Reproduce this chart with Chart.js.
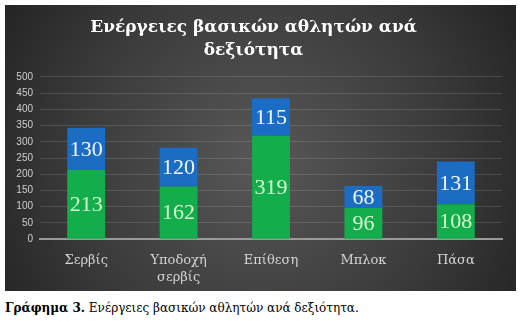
<!DOCTYPE html>
<html>
<head>
<meta charset="utf-8">
<script src="https://cdn.jsdelivr.net/npm/chart.js@4"></script>
<style>
  body { margin: 0; background: #fff; width: 523px; height: 323px; position: relative; overflow: hidden; }
  #box { position: absolute; left: 5px; top: 5px; width: 511px; height: 286px; }
  #caption { position: absolute; left: 5px; top: 301px; font-family: "DejaVu Serif", serif; font-size: 12px; color: #000; white-space: nowrap; }
</style>
</head>
<body>
<div id="box"><canvas id="chart" width="511" height="286"></canvas></div>
<div id="caption"><b>Γράφημα 3.</b> Ενέργειες βασικών αθλητών ανά δεξιότητα.</div>
<script>
const categories = [["Σερβίς"], ["Υποδοχή", "σερβίς"], ["Επίθεση"], ["Μπλοκ"], ["Πάσα"]];
const greenValues = [213, 162, 319, 96, 108];
const blueValues = [130, 120, 115, 68, 131];
const yTicks = [0, 50, 100, 150, 200, 250, 300, 350, 400, 450, 500];

const serif = "'Liberation Serif', 'DejaVu Serif', serif";
const greekSerif = "'DejaVu Serif', serif";

// dark radial background like the slide
const bgPlugin = {
    id: "bg",
    beforeDraw(chart) {
        const ctx = chart.ctx;
        const w = chart.width, h = chart.height;
        const g = ctx.createRadialGradient(w * 0.5, h * 0.55, 10, w * 0.5, h * 0.55, w * 0.6);
        g.addColorStop(0, "#565656");
        g.addColorStop(0.6, "#3a3a3a");
        g.addColorStop(1, "#232323");
        ctx.save();
        ctx.fillStyle = g;
        ctx.fillRect(0, 0, w, h);
        ctx.restore();
    }
};

// values written inside each bar segment
const labelPlugin = {
    id: "barLabels",
    afterDatasetsDraw(chart) {
        const ctx = chart.ctx;
        ctx.save();
        ctx.font = "22px " + serif;
        ctx.textAlign = "center";
        ctx.textBaseline = "middle";
        chart.data.datasets.forEach((ds, i) => {
            const meta = chart.getDatasetMeta(i);
            ctx.fillStyle = ds.labelColor;
            meta.data.forEach((bar, j) => {
                ctx.fillText(ds.data[j], bar.x, (bar.y + bar.base) / 2 + 1);
            });
        });
        ctx.restore();
    }
};

const ctx = document.getElementById("chart").getContext("2d");
new Chart(ctx, {
    type: "bar",
    data: {
        labels: categories,
        datasets: [
            {
                label: "green",
                data: greenValues,
                backgroundColor: "#13ae4b",
                labelColor: "#d8f7cf",
                barPercentage: 0.41,
                categoryPercentage: 1
            },
            {
                label: "blue",
                data: blueValues,
                backgroundColor: "#1a6dc3",
                labelColor: "#f2f6ff",
                barPercentage: 0.41,
                categoryPercentage: 1
            }
        ]
    },
    options: {
        responsive: false,
        animation: false,
        layout: { padding: { left: 0, right: 14, top: 0, bottom: 0 } },
        scales: {
            x: {
                stacked: true,
                grid: { display: false },
                border: { color: "#9a9a9a", width: 2 },
                ticks: {
                    color: "#d4d4d4",
                    font: { family: greekSerif, size: 13, lineHeight: 1.3 },
                    padding: 5
                }
            },
            y: {
                stacked: true,
                min: 0,
                max: 500,
                afterFit(scale) { scale.width = 35; },
                afterBuildTicks(scale) { scale.ticks = yTicks.map(v => ({ value: v })); },
                grid: { color: "rgba(255,255,255,0.13)", drawTicks: false },
                border: { display: false },
                ticks: {
                    color: "#cfcfcf",
                    font: { family: "'Liberation Sans', sans-serif", size: 10 },
                    padding: 7,
                    autoSkip: false
                }
            }
        },
        plugins: {
            legend: { display: false },
            tooltip: { enabled: false },
            title: {
                display: true,
                text: ["Ενέργειες βασικών αθλητών ανά", "δεξιότητα"],
                color: "#ffffff",
                font: { family: greekSerif, size: 17, weight: "bold", lineHeight: 1.35 },
                padding: { top: 11, bottom: 15 }
            }
        }
    },
    plugins: [bgPlugin, labelPlugin]
});
</script>
</body>
</html>
